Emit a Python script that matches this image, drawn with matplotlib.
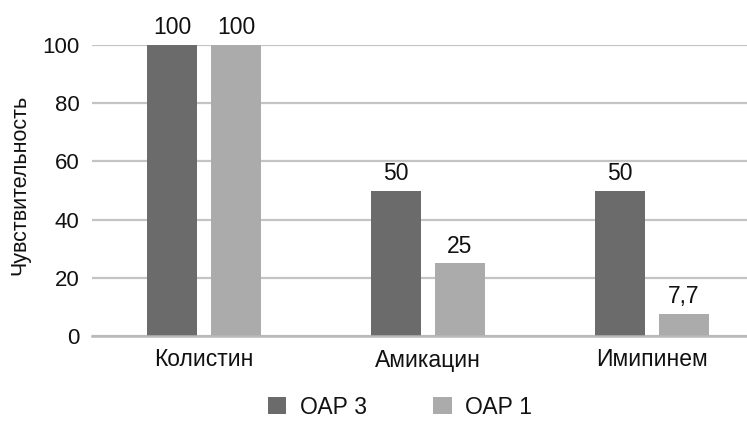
import matplotlib
matplotlib.use("Agg")
import matplotlib.pyplot as plt
import numpy as np

categories = ["Колистин", "Амикацин", "Имипинем"]
series_names = ["ОАР 3", "ОАР 1"]
oar3 = [100, 50, 50]
oar1 = [100, 25, 7.7]
labels3 = ["100", "50", "50"]
labels1 = ["100", "25", "7,7"]
yticks = [0, 20, 40, 60, 80, 100]

plt.rcParams['font.family'] = ['Liberation Sans', 'DejaVu Sans']

fig = plt.figure(figsize=(7.47, 4.21), dpi=100)
fig.patch.set_facecolor('white')
ax = fig.add_axes([92/747, 85/421, 672/747, 291/421])

x = np.arange(len(categories))
w = 0.223
off = 0.143
c3 = '#6b6b6b'
c1 = '#ababab'
b3 = ax.bar(x - off, oar3, w, color=c3, label=series_names[0], zorder=3)
b1 = ax.bar(x + off, oar1, w, color=c1, label=series_names[1], zorder=3)

fs = 16.5
tc = '#111111'
for rects, labs in ((b3, labels3), (b1, labels1)):
    for r, t in zip(rects, labs):
        ax.annotate(t, (r.get_x() + r.get_width()/2, r.get_height()),
                    xytext=(0, 4), textcoords='offset points',
                    ha='center', va='bottom', fontsize=fs, color=tc)

ax.set_xlim(-0.5, 2.5)
ax.set_ylim(0, 100)
ax.set_yticks(yticks)
ax.set_yticklabels([str(v) for v in yticks])
ax.set_xticks(x)
ax.set_xticklabels(categories)
ax.tick_params(axis='y', length=0, pad=9, labelsize=16, labelcolor=tc)
ax.tick_params(axis='x', length=0, pad=9, labelsize=fs, labelcolor=tc)
ax.yaxis.grid(True, color='#c4c4c4', linewidth=1.6, zorder=0)
ax.set_axisbelow(True)
for s in ['top', 'right', 'left']:
    ax.spines[s].set_visible(False)
ax.spines['bottom'].set_color('#b8b8b8')
ax.spines['bottom'].set_linewidth(1.8)
ax.spines['bottom'].set_zorder(4)

fig.text(20/747, 1 - 185/421, "Чувствительность", rotation=90,
         ha='center', va='center', fontsize=15.5, color=tc)

fig.legend(handles=[b3, b1], labels=series_names, loc='center',
           bbox_to_anchor=(400/747, 1 - 407/421), ncol=2, frameon=False,
           fontsize=fs, handlelength=0.8, handleheight=0.8,
           handletextpad=0.6, columnspacing=2.9, labelcolor=tc,
           borderpad=0.2)

fig.savefig("out.png", dpi=100, facecolor='white')
